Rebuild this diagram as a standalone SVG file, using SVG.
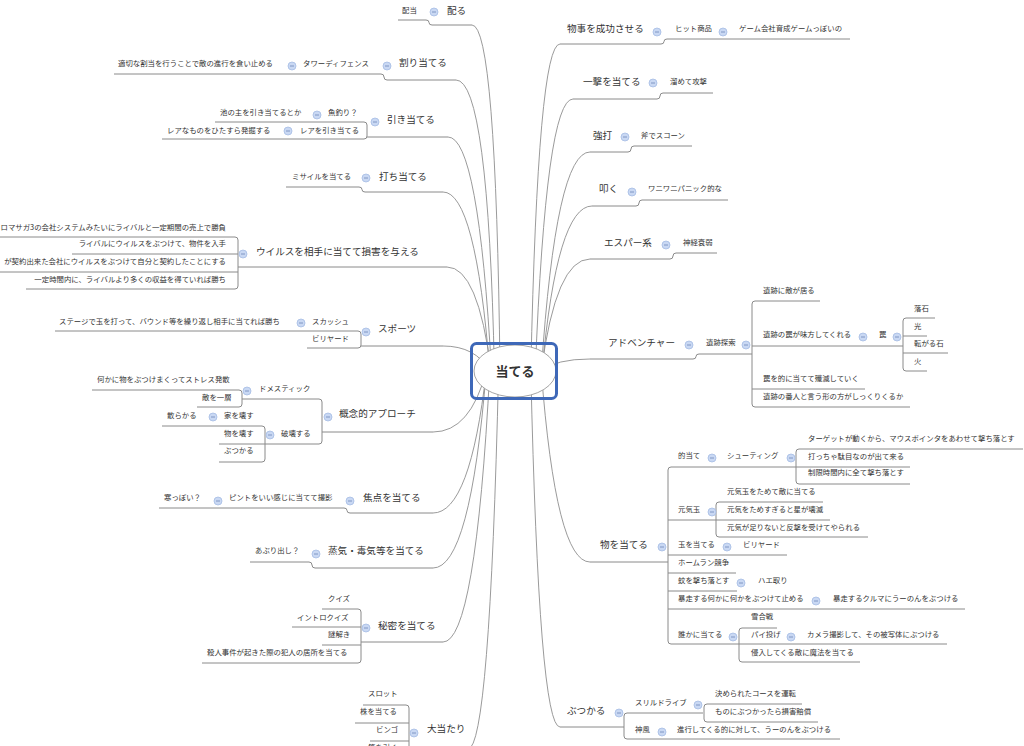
<svg xmlns="http://www.w3.org/2000/svg" xmlns:xlink="http://www.w3.org/1999/xlink" width="1024" height="746" viewBox="0 0 1024 746">
<style>
text{font-family:"Noto Sans CJK JP","Noto Sans CJK SC",sans-serif;fill:#333}
.m{font-size:9.6px}
.s{font-size:7.4px}
.e{text-anchor:end}
.ln{fill:none;stroke:#8a8a8a;stroke-width:1}
.cv{fill:none;stroke:#8f8f8f;stroke-width:0.9}
</style>
<defs>
<g id="col"><circle r="4" fill="#c9d8f3" stroke="#a6bce4" stroke-width="0.8"/><line x1="-2" y1="0" x2="2" y2="0" stroke="#6f88b8" stroke-width="0.8"/></g>
</defs>
<rect width="1024" height="746" fill="#fff"/>
<g id="connectors">
<!-- curves from centre -->
<path class="cv" d="M500,371 Q496,25 472,25"/>
<path class="cv" d="M494.4,371 Q488.3,80 456,80"/>
<path class="cv" d="M491.5,371 Q478.6,137 448,137"/>
<path class="cv" d="M489.8,371 Q475.6,192 443,192"/>
<path class="cv" d="M491.2,371 Q478,267 447,267"/>
<path class="cv" d="M489.8,371 Q475.6,346 443,346"/>
<path class="cv" d="M486.3,371 Q470.3,432 433,432"/>
<path class="cv" d="M486.3,371 Q470.3,513 433,513"/>
<path class="cv" d="M486.3,371 Q470.3,568 433,568"/>
<path class="cv" d="M489.8,371 Q475.6,642 443,642"/>
<path class="cv" d="M498.6,371 Q489.6,749 468,749"/>
<path class="cv" d="M530.8,371 Q538,44 560,44"/>
<path class="cv" d="M535.3,371 Q546,99 573,99"/>
<path class="cv" d="M541.3,371 Q555.9,152 590,152"/>
<path class="cv" d="M542,371 Q557,206 592,206"/>
<path class="cv" d="M541.3,371 Q555.9,259 590,259"/>
<path class="cv" d="M541.3,371 Q555.9,359 590,359"/>
<path class="cv" d="M541.3,371 Q555.9,562 590,562"/>
<path class="cv" d="M530.8,371 Q539,727 560,727"/>
<!-- left underlines -->
<path class="ln" d="M398,20 H426 Q429,20 429,22.5 Q429,25 432,25 H472"/>
<path class="ln" d="M114,74 H381 Q384,74 384,77 Q384,80 387,80 H456"/>
<path class="ln" d="M215,122 H364 Q367,122 367,125 V136 Q367,139 364,139 H162 M367,137 H448"/>
<path class="ln" d="M286,187 H359 Q362,187 362,189.5 Q362,192 365,192 H443"/>
<path class="ln" d="M0,237 H235 Q238,237 238,240 V286 Q238,289 235,289 H26 M72,254 H238 M0,272 H238 M238,267 H447"/>
<path class="ln" d="M55,331 H358 Q361,331 361,334 V345 Q361,348 358,348 H307 M361,346 H443"/>
<path class="ln" d="M242,399 H319 Q322,399 322,402 V441 Q322,444 319,444 H265 M322,432 H433"/>
<path class="ln" d="M92,390 H239 Q242,390 242,393 V404 Q242,407 239,407 H197"/>
<path class="ln" d="M162,426 H262 Q265,426 265,429 V459 Q265,462 262,462 H219 M219,444 H265"/>
<path class="ln" d="M159,508 H344 Q347,508 347,510.5 Q347,513 350,513 H433"/>
<path class="ln" d="M250,562 H309 Q312,562 312,565 Q312,568 315,568 H433"/>
<path class="ln" d="M322,609 H358 Q361,609 361,612 V660 Q361,663 358,663 H202 M292,627 H361 M322,645 H361 M361,642 H443"/>
<path class="ln" d="M363,705 H406 Q409,705 409,708 V760 M355,723 H409 M370,741 H409 M409,749 H468"/>
<!-- right underlines -->
<path class="ln" d="M560,44 H661 Q664,44 664,41.5 Q664,39 667,39 H850"/>
<path class="ln" d="M573,99 H657 Q660,99 660,96 Q660,93 663,93 H713"/>
<path class="ln" d="M590,152 H628 Q631,152 631,149 Q631,146 634,146 H692"/>
<path class="ln" d="M592,206 H636 Q639,206 639,203 Q639,200 642,200 H728"/>
<path class="ln" d="M590,259 H670 Q673,259 673,256 Q673,253 676,253 H717"/>
<path class="ln" d="M590,359 H693 Q696,359 696,356.5 Q696,354 699,354 H752"/>
<path class="ln" d="M820,301 H755 Q752,301 752,304 V404 Q752,407 755,407 H910 M752,346 H903 M752,389 H865"/>
<path class="ln" d="M935,318 H906 Q903,318 903,321 V368 Q903,371 906,371 H927 M903,336 H927 M903,353 H948"/>
<path class="ln" d="M590,562 H668"/>
<path class="ln" d="M796,467 H671 Q668,467 668,470 V641 Q668,644 671,644 H739"/>
<path class="ln" d="M1023,449 H799 Q796,449 796,452 V481 Q796,484 799,484 H910 M796,467 H910"/>
<path class="ln" d="M668,520 H716 M823,502 H719 Q716,502 716,505 V534 Q716,537 719,537 H868 M716,520 H830"/>
<path class="ln" d="M668,555 H787 M668,573 H736 M668,591 H737 M668,609 H965"/>
<path class="ln" d="M777,628 H742 Q739,628 739,631 V659 Q739,662 742,662 H860 M739,644 H947"/>
<path class="ln" d="M560,727 H624 M703,713 H627 Q624,713 624,716 V736 Q624,739 627,739 H840"/>
<path class="ln" d="M802,704 H707 Q704,704 704,707 V719 Q704,722 707,722 H818"/>
</g>
<g id="center">
<ellipse cx="515" cy="371" rx="41" ry="26" fill="#fff" stroke="#9a9a9a" stroke-width="0.9"/>
<rect x="471.5" y="343.5" width="85" height="55" rx="5" fill="none" stroke="#3e68b8" stroke-width="3"/>
<text x="515" y="376" text-anchor="middle" font-size="13" font-weight="bold">当てる</text>
</g>
<g id="n-kubaru"><text class="m" x="447" y="13.6">配る</text><use href="#col" x="434" y="12"/><text class="s" x="402" y="12.8">配当</text></g>
<g id="n-wariateru"><text class="m" x="399" y="65.6">割り当てる</text><use href="#col" x="387" y="66"/><text class="s" x="303" y="65.8">タワーディフェンス</text><use href="#col" x="292" y="66"/><text class="s" x="118" y="65.8">適切な割当を行うことで敵の進行を食い止める</text></g>
<g id="n-hikiateru"><text class="m" x="387" y="122.6">引き当てる</text><use href="#col" x="375" y="122"/><text class="s" x="328" y="114.8">魚釣り？</text><use href="#col" x="317" y="115"/><text class="s" x="220" y="114.8">池の主を引き当てるとか</text><text class="s" x="300" y="132.8">レアを引き当てる</text><use href="#col" x="288" y="131"/><text class="s" x="167" y="132.8">レアなものをひたすら発掘する</text></g>
<g id="n-uchiateru"><text class="m" x="379" y="179.6">打ち当てる</text><use href="#col" x="366" y="178"/><text class="s" x="292" y="178.8">ミサイルを当てる</text></g>
<g id="n-virus"><text class="m" x="256" y="254.6">ウイルスを相手に当てて損害を与える</text><use href="#col" x="243" y="254"/><text class="s e" x="226" y="229.8">ロマサガ3の会社システムみたいにライバルと一定期間の売上で勝負</text><text class="s e" x="226" y="245.8">ライバルにウイルスをぶつけて、物件を入手</text><text class="s e" x="226" y="263.8">が契約出来た会社にウイルスをぶつけて自分と契約したことにする</text><text class="s e" x="226" y="281.8">一定時間内に、ライバルより多くの収益を得ていれば勝ち</text></g>
<g id="n-sports"><text class="m" x="378" y="331.6">スポーツ</text><use href="#col" x="366" y="332"/><text class="s" x="312" y="323.8">スカッシュ</text><use href="#col" x="301" y="323"/><text class="s" x="59" y="323.8">ステージで玉を打って、バウンド等を繰り返し相手に当てれば勝ち</text><text class="s" x="312" y="340.8">ビリヤード</text></g>
<g id="n-gainen"><text class="m" x="339" y="416.6">概念的アプローチ</text><use href="#col" x="328" y="417"/><text class="s" x="259" y="390.8">ドメスティック</text><use href="#col" x="247" y="391"/><text class="s" x="97" y="381.8">何かに物をぶつけまくってストレス発散</text><text class="s" x="202" y="399.8">敵を一層</text><text class="s" x="281" y="435.8">破壊する</text><use href="#col" x="270" y="435"/><text class="s" x="224" y="417.8">家を壊す</text><use href="#col" x="213" y="417"/><text class="s" x="167" y="417.8">散らかる</text><text class="s" x="224" y="435.8">物を壊す</text><text class="s" x="224" y="452.8">ぶつかる</text></g>
<g id="n-shouten"><text class="m" x="363" y="500.6">焦点を当てる</text><use href="#col" x="350" y="501"/><text class="s" x="229" y="499.8">ピントをいい感じに当てて撮影</text><use href="#col" x="218" y="501"/><text class="s" x="164" y="499.8">寒っぽい？</text></g>
<g id="n-jouki"><text class="m" x="328" y="553.6">蒸気・毒気等を当てる</text><use href="#col" x="316" y="554"/><text class="s" x="255" y="552.8">あぶり出し？</text></g>
<g id="n-himitsu"><text class="m" x="378" y="628.6">秘密を当てる</text><use href="#col" x="366" y="628"/><text class="s" x="328" y="600.8">クイズ</text><text class="s" x="297" y="619.8">イントロクイズ</text><text class="s" x="328" y="636.8">謎解き</text><text class="s" x="207" y="654.8">殺人事件が起きた際の犯人の居所を当てる</text></g>
<g id="n-ooatari"><text class="m" x="427" y="731.6">大当たり</text><use href="#col" x="414" y="733"/><text class="s" x="368" y="695.8">スロット</text><text class="s" x="360" y="713.8">株を当てる</text><text class="s" x="376" y="731.8">ビンゴ</text><text class="s" x="368" y="749.8">籤を引く</text></g>
<g id="n-seikou"><text class="m" x="567" y="31.6">物事を成功させる</text><use href="#col" x="657" y="32"/><text class="s" x="675" y="30.8">ヒット商品</text><use href="#col" x="723" y="32"/><text class="s" x="739" y="30.8">ゲーム会社育成ゲームっぽいの</text></g>
<g id="n-ichigeki"><text class="m" x="583" y="84.6">一撃を当てる</text><use href="#col" x="653" y="83"/><text class="s" x="670" y="83.8">溜めて攻撃</text></g>
<g id="n-kyouda"><text class="m" x="593" y="138.6">強打</text><use href="#col" x="625" y="137"/><text class="s" x="641" y="137.8">斧でスコーン</text></g>
<g id="n-tataku"><text class="m" x="599" y="191.6">叩く</text><use href="#col" x="632" y="192"/><text class="s" x="648" y="190.8">ワニワニパニック的な</text></g>
<g id="n-esper"><text class="m" x="604" y="245.6">エスパー系</text><use href="#col" x="666" y="245"/><text class="s" x="683" y="244.8">神経衰弱</text></g>
<g id="n-adventure"><text class="m" x="608" y="345.6">アドベンチャー</text><use href="#col" x="689" y="345"/><text class="s" x="706" y="344.8">遺跡探索</text><use href="#col" x="746" y="345"/><text class="s" x="763" y="292.8">遺跡に敵が居る</text><text class="s" x="763" y="336.8">遺跡の罠が味方してくれる</text><use href="#col" x="863" y="337"/><text class="s" x="879" y="336.8">罠</text><use href="#col" x="897" y="337"/><text class="s" x="914" y="310.8">落石</text><text class="s" x="914" y="328.8">光</text><text class="s" x="914" y="345.8">転がる石</text><text class="s" x="914" y="363.8">火</text><text class="s" x="763" y="380.8">罠を的に当てて殲滅していく</text><text class="s" x="763" y="398.8">遺跡の番人と言う形の方がしっくりくるか</text></g>
<g id="n-monoateru"><text class="m" x="600" y="547.6">物を当てる</text><use href="#col" x="662" y="547"/><text class="s" x="678" y="457.8">的当て</text><use href="#col" x="712" y="458"/><text class="s" x="727" y="457.8">シューティング</text><use href="#col" x="791" y="458"/><text class="s" x="808" y="440.8">ターゲットが動くから、マウスポインタをあわせて撃ち落とす</text><text class="s" x="808" y="458.8">打っちゃ駄目なのが出て来る</text><text class="s" x="808" y="474.8">制限時間内に全て撃ち落とす</text><text class="s" x="678" y="511.8">元気玉</text><use href="#col" x="712" y="512"/><text class="s" x="727" y="493.8">元気玉をためて敵に当てる</text><text class="s" x="727" y="511.8">元気をためすぎると星が壊滅</text><text class="s" x="727" y="529.8">元気が足りないと反撃を受けてやられる</text><text class="s" x="678" y="546.8">玉を当てる</text><use href="#col" x="727" y="547"/><text class="s" x="743" y="546.8">ビリヤード</text><text class="s" x="678" y="564.8">ホームラン競争</text><text class="s" x="678" y="582.8">蚊を撃ち落とす</text><use href="#col" x="741" y="583"/><text class="s" x="758" y="582.8">ハエ取り</text><text class="s" x="678" y="600.8">暴走する何かに何かをぶつけて止める</text><use href="#col" x="816" y="601"/><text class="s" x="833" y="600.8">暴走するクルマにうーのんをぶつける</text><text class="s" x="678" y="636.8">誰かに当てる</text><use href="#col" x="733" y="637"/><text class="s" x="751" y="618.8">雪合戦</text><text class="s" x="751" y="636.8">パイ投げ</text><use href="#col" x="791" y="637"/><text class="s" x="807" y="636.8">カメラ撮影して、その被写体にぶつける</text><text class="s" x="751" y="654.8">侵入してくる敵に魔法を当てる</text></g>
<g id="n-butsukaru"><text class="m" x="567" y="713.6">ぶつかる</text><use href="#col" x="619" y="713"/><text class="s" x="635" y="704.8">スリルドライブ</text><use href="#col" x="698" y="705"/><text class="s" x="715" y="695.8">決められたコースを運転</text><text class="s" x="715" y="713.8">ものにぶつかったら損害賠償</text><text class="s" x="635" y="731.8">神風</text><use href="#col" x="662" y="732"/><text class="s" x="677" y="731.8">進行してくる的に対して、うーのんをぶつける</text></g>
</svg>
